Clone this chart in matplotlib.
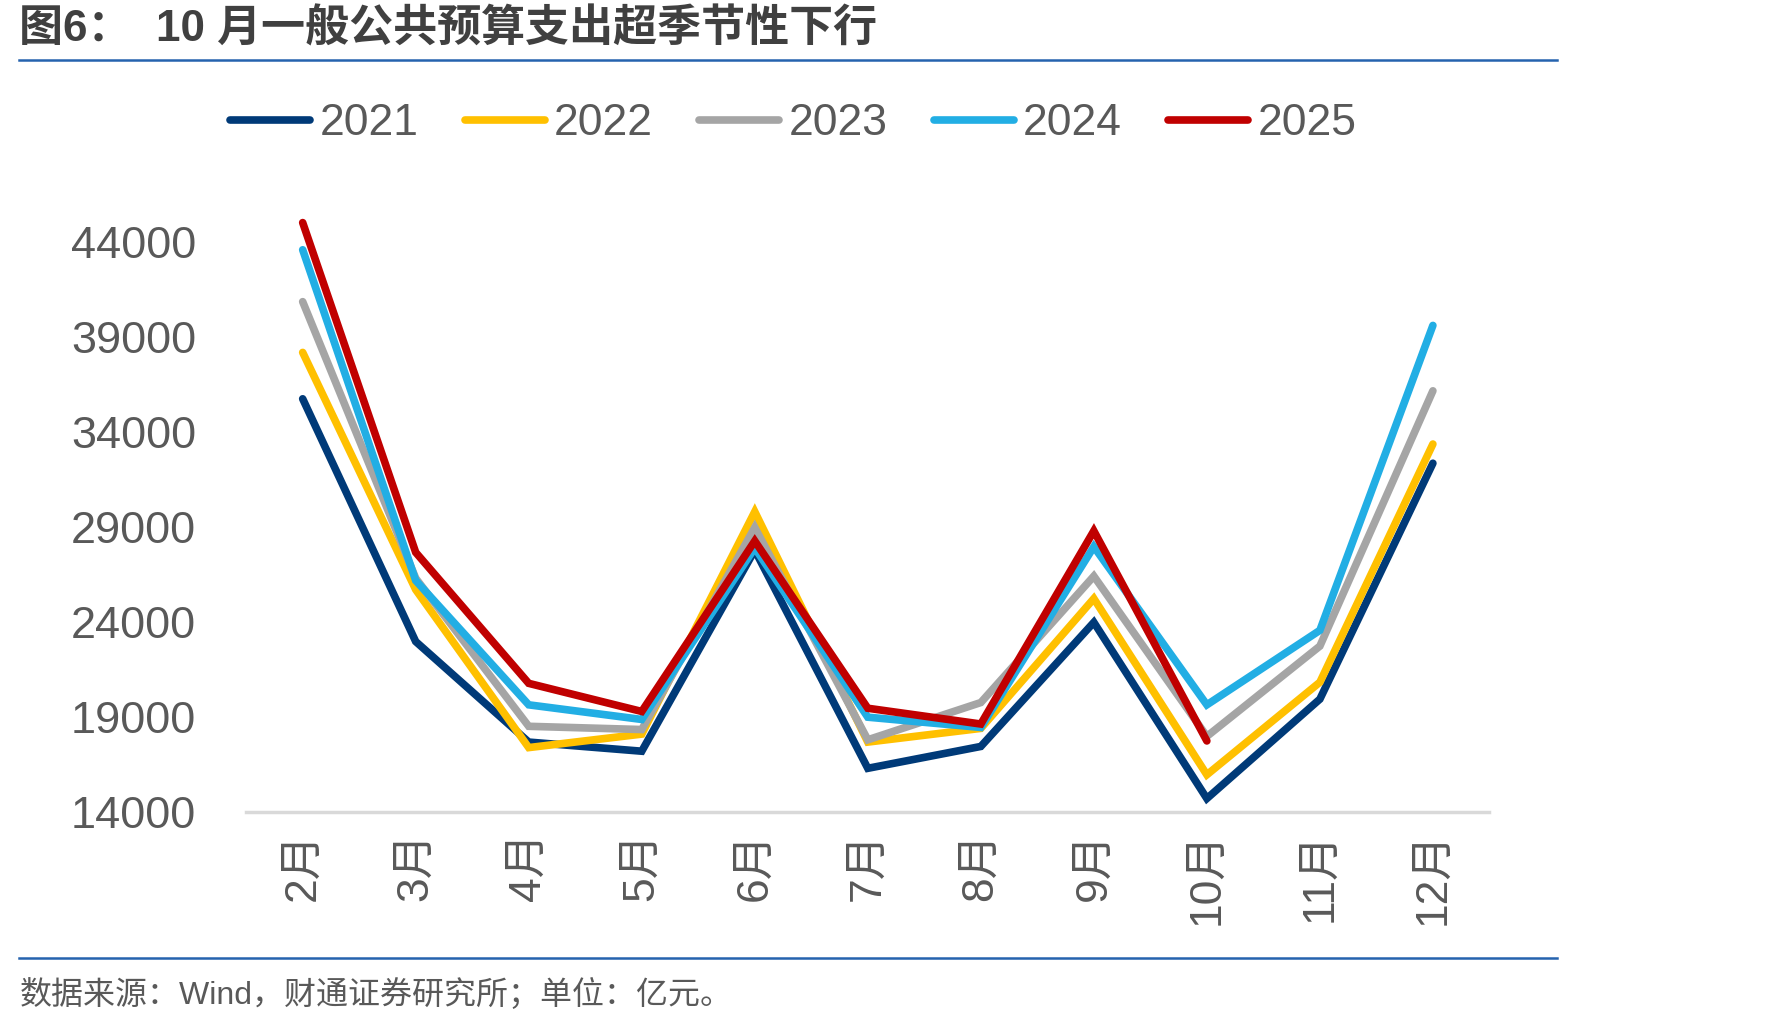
import matplotlib
matplotlib.use("Agg")
import matplotlib.pyplot as plt
from matplotlib.lines import Line2D

plt.rcParams['font.family'] = ['Liberation Sans', 'Noto Sans CJK SC', 'DejaVu Sans']

# data (亿元)
months = ['2月', '3月', '4月', '5月', '6月', '7月', '8月', '9月', '10月', '11月', '12月']
y2021 = [35740, 22970, 17680, 17200, 27780, 16300, 17450, 23980, 14710, 19940, 32350]
y2022 = [38180, 25700, 17390, 18100, 29800, 17680, 18400, 25230, 15960, 20830, 33360]
y2023 = [40850, 26300, 18510, 18340, 28970, 17800, 19760, 26410, 17980, 22730, 36160]
y2024 = [43580, 26180, 19640, 18870, 27900, 18990, 18450, 27960, 19640, 23560, 39600]
y2025 = [45010, 27660, 20770, 19290, 28260, 19460, 18630, 28790, 17740]

series = [('2021', y2021, '#003A78'),
          ('2022', y2022, '#FFC000'),
          ('2023', y2023, '#A5A5A5'),
          ('2024', y2024, '#22AEE4'),
          ('2025', y2025, '#C00000')]

grey = '#595959'

fig = plt.figure(figsize=(17.71, 10.24), dpi=100)
ax = fig.add_axes([0.139, 0.207, 0.702, 0.594])

for name, vals, col in series:
    ax.plot(range(len(vals)), vals, color=col, lw=5.5, label=name,
            solid_capstyle='round', solid_joinstyle='miter')

ax.set_xlim(-0.5, len(months) - 0.5)
ax.set_ylim(14000, 46000)
ax.set_yticks(range(14000, 46000, 5000))
ax.set_xticks(range(len(months)))
ax.set_xticklabels(months, rotation=90, fontsize=32, color=grey)
ax.tick_params(axis='y', labelsize=32.5, labelcolor=grey, length=0, pad=36)
ax.tick_params(axis='x', length=0, pad=14)
for s in ['top', 'right', 'left']:
    ax.spines[s].set_visible(False)
ax.spines['bottom'].set_color('#D9D9D9')
ax.spines['bottom'].set_linewidth(2.5)

leg = fig.legend(loc='center', bbox_to_anchor=(0.448, 0.879), ncol=5, frameon=False,
                 fontsize=32, handlelength=1.8, handletextpad=0.2, columnspacing=1.05)
for t in leg.get_texts():
    t.set_color(grey)

# title, rules and source note
fig.text(0.011, 0.971, '图6：  10 月一般公共预算支出超季节性下行', fontsize=31.7,
         fontweight='bold', color='#404040', va='center', ha='left')
fig.add_artist(Line2D([0.011, 0.879], [0.941, 0.941], color='#2563AE', lw=1.8))
fig.add_artist(Line2D([0.011, 0.879], [0.064, 0.064], color='#2563AE', lw=1.8))
fig.text(0.011, 0.028, '数据来源：Wind，财通证券研究所；单位：亿元。', fontsize=23,
         color=grey, va='center', ha='left')

fig.savefig('out.png', dpi=100)
